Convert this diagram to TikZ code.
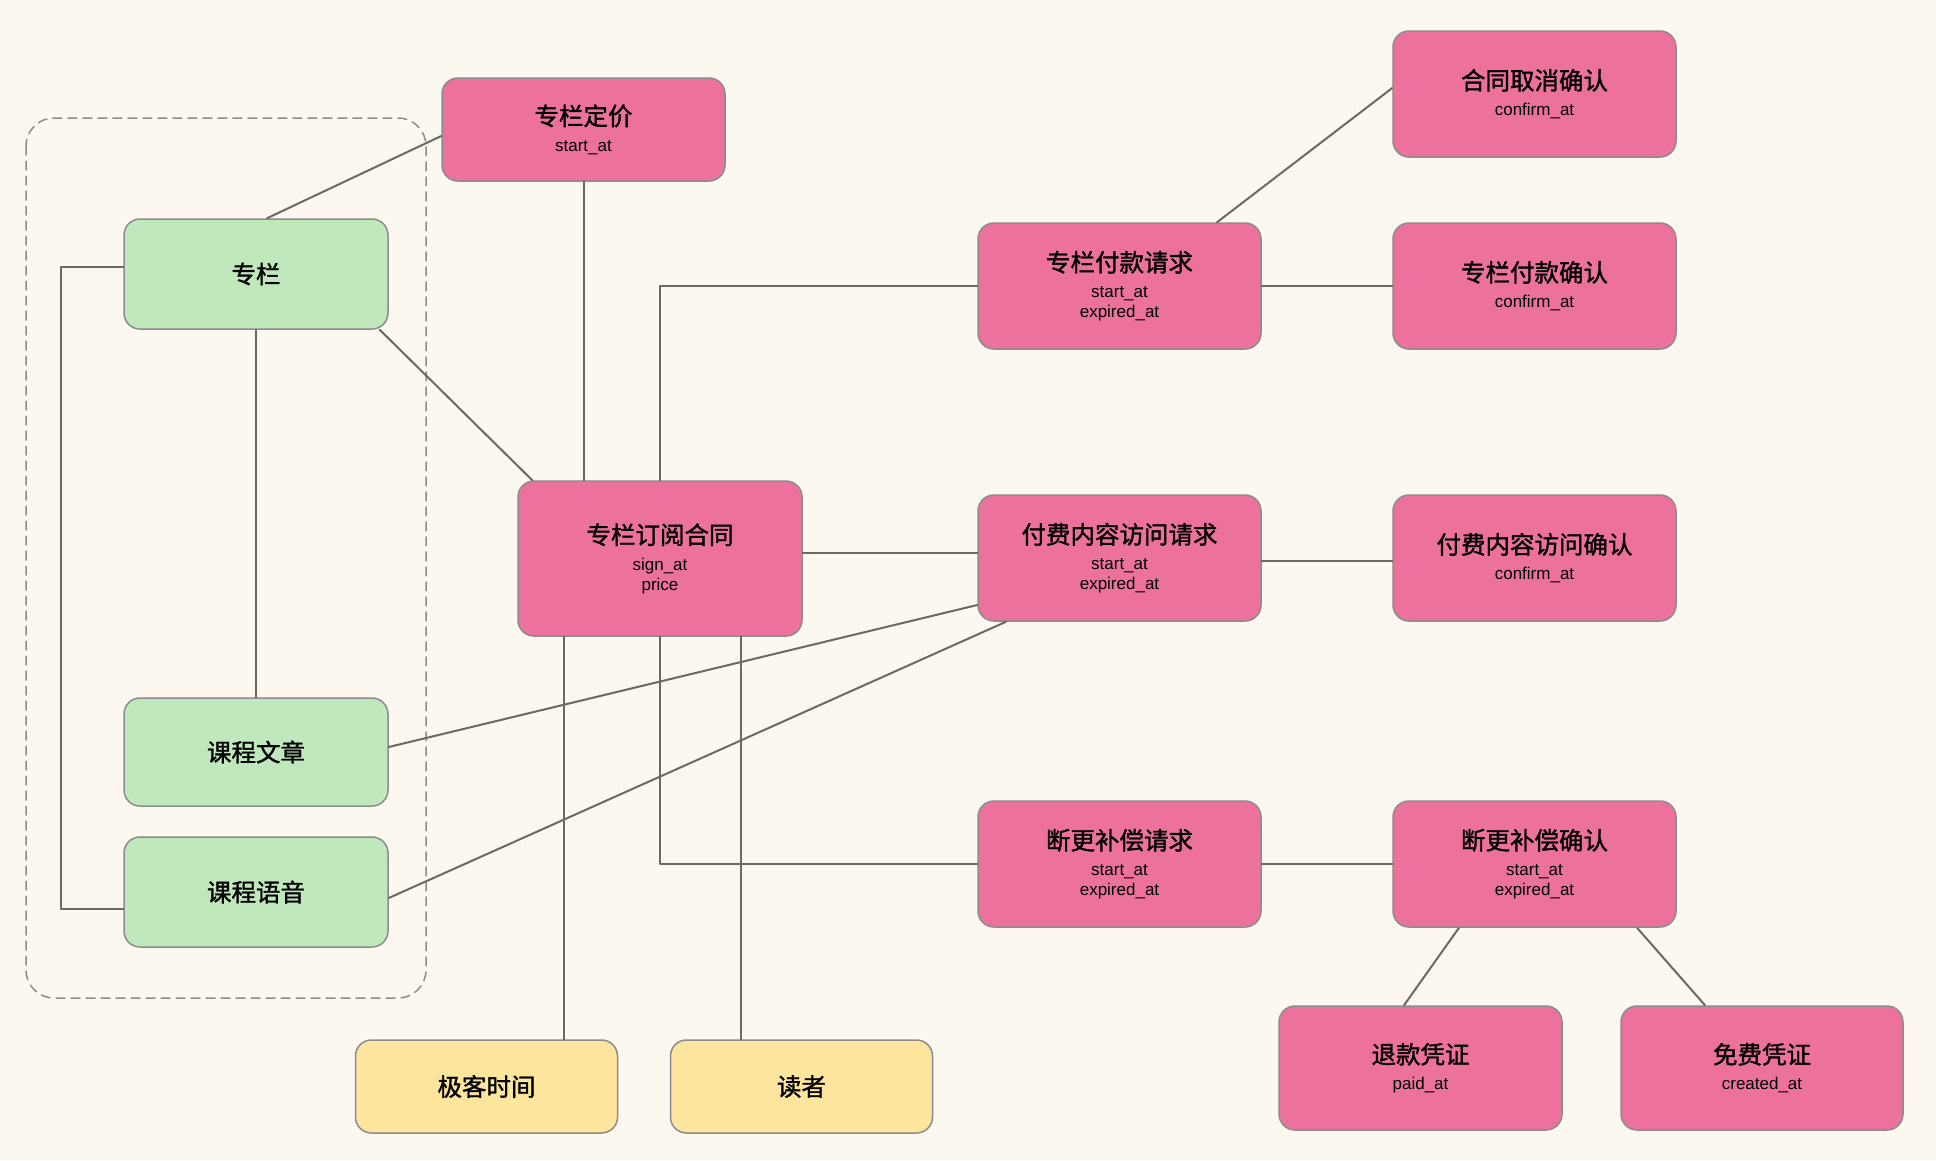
\documentclass[tikz,border=0pt]{standalone}
\usepackage{fontspec}
\newfontfamily\cjkfont{Noto Sans CJK SC}[FakeBold=1.3]
\newfontfamily\latinfont{Liberation Sans}
\usetikzlibrary{calc}
\definecolor{bgcream}{HTML}{FCF8F0}
\definecolor{entpink}{HTML}{EC729D}
\definecolor{entgreen}{HTML}{C1E8BC}
\definecolor{entyellow}{HTML}{FEE59D}
\definecolor{boxgray}{HTML}{8C8C8C}
\definecolor{linkgray}{HTML}{6B6A60}
\newcommand\ttl[1]{{\fontsize{24.5}{28}\selectfont\cjkfont #1}}
\tikzset{
  every picture/.style={line cap=round, line join=round},
  entity/.style={draw=boxgray, line width=1.5pt, rounded corners=16pt, align=center,
    inner sep=0pt, font=\fontsize{17}{20}\selectfont\latinfont},
  event/.style={entity, fill=entpink, minimum width=283pt, minimum height=126pt},
  thing/.style={entity, fill=entgreen, minimum width=264pt, minimum height=110pt},
  actor/.style={entity, fill=entyellow, minimum width=262pt, minimum height=93pt},
  link/.style={linkgray, line width=2pt},
  groupbox/.style={boxgray, line width=1.5pt, dash pattern=on 9pt off 6pt, rounded corners=28pt},
}

\begin{document}
\begin{tikzpicture}[x=1pt, y=-1pt]
  \fill[bgcream] (0,0) rectangle (1936,1160);
  \useasboundingbox (0,0) rectangle (1936,1160);
  % content group
  \draw[groupbox] (26,118) rectangle (426,998);
  \node[thing] (zl) at (256,274) {\ttl{专栏}};
  \node[thing, minimum height=108pt] (wz) at (256,752) {\ttl{课程文章}};
  \node[thing] (yy) at (256,892) {\ttl{课程语音}};
  % contract and its events
  \node[event, minimum height=103pt] (dj) at (583.5,129.5) {\ttl{专栏定价}\\[6pt]start\_at};
  \node[event, minimum width=284pt, minimum height=155pt] (ht) at (660,558.5)
    {\ttl{专栏订阅合同}\\[6pt]sign\_at\\price};
  \node[event] (fkqq) at (1119.5,286) {\ttl{专栏付款请求}\\[6pt]start\_at\\expired\_at};
  \node[event] (qxqr) at (1534.5,94) {\ttl{合同取消确认}\\[6pt]confirm\_at};
  \node[event] (fkqr) at (1534.5,286) {\ttl{专栏付款确认}\\[6pt]confirm\_at};
  \node[event] (fwqq) at (1119.5,558) {\ttl{付费内容访问请求}\\[6pt]start\_at\\expired\_at};
  \node[event] (fwqr) at (1534.5,558) {\ttl{付费内容访问确认}\\[6pt]confirm\_at};
  \node[event] (bcqq) at (1119.5,864) {\ttl{断更补偿请求}\\[6pt]start\_at\\expired\_at};
  \node[event] (bcqr) at (1534.5,864) {\ttl{断更补偿确认}\\[6pt]start\_at\\expired\_at};
  \node[event, minimum height=124pt] (tk) at (1420.5,1068) {\ttl{退款凭证}\\[6pt]paid\_at};
  \node[event, minimum width=282pt, minimum height=124pt] (mf) at (1762,1068) {\ttl{免费凭证}\\[6pt]created\_at};
  % parties
  \node[actor] (jk) at (486.5,1086.5) {\ttl{极客时间}};
  \node[actor] (dz) at (801.5,1086.5) {\ttl{读者}};
  % connectors
  \draw[link] ([yshift=7pt]zl.west) -- ++(-62pt,0) |- ([yshift=-17pt]yy.west);  % bracket
  \draw[link] (zl.south) -- (wz.north);
  \draw[link] ([xshift=11pt]zl.north) -- ([yshift=-6.5pt]dj.west);
  \draw[link] ([xshift=-9pt]zl.south east) -- ([xshift=15pt]ht.north west);
  \draw[link] (dj.south) -- (dj.south |- ht.north);
  \draw[link] (ht.north) |- (fkqq.west);
  \draw[link] ([xshift=97.5pt]fkqq.north) -- ([yshift=6pt]qxqr.west);
  \draw[link] (fkqq.east) -- (fkqr.west);
  \draw[link] ([yshift=6pt]ht.east) -- ([yshift=6pt]ht.east -| fwqq.west);
  \draw[link] ([yshift=-2.5pt]fwqq.east) -- ([yshift=-2.5pt]fwqq.east -| fwqr.west);
  \draw[link] ([yshift=-47pt]fwqq.west) -- ([yshift=5pt]wz.east);
  \draw[link] ([xshift=-113.5pt]fwqq.south) -- ([yshift=-6pt]yy.east);
  \draw[link] ([xshift=-96pt]ht.south) -- ([xshift=-96pt]ht.south |- jk.north);
  \draw[link] (ht.south) |- (bcqq.west);
  \draw[link] ([xshift=81pt]ht.south) -- ([xshift=81pt]ht.south |- dz.north);
  \draw[link] (bcqq.east) -- (bcqr.west);
  \draw[link] ([xshift=-75.5pt]bcqr.south) -- ([xshift=-16.5pt]tk.north);
  \draw[link] ([xshift=102.5pt]bcqr.south) -- ([xshift=-57pt]mf.north);
\end{tikzpicture}
\end{document}
